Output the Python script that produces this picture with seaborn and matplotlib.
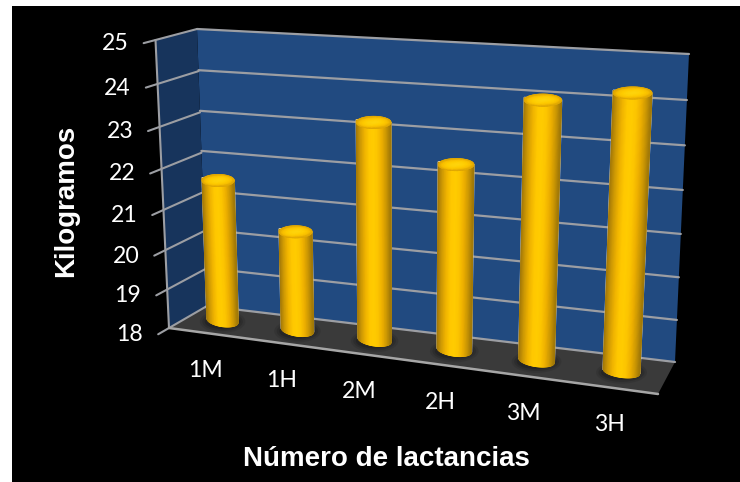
import numpy as np
import matplotlib
matplotlib.use("Agg")
import matplotlib.pyplot as plt
from matplotlib.patches import Ellipse, Polygon, Rectangle
from matplotlib.transforms import Transform
import seaborn as sns

# Chart data
CATEGORIES = ["1M", "1H", "2M", "2H", "3M", "3H"]
KILOGRAMS = [21.5, 20.45, 23.2, 22.4, 24.0, 24.3]
Y_TICKS = [18, 19, 20, 21, 22, 23, 24, 25]
Y_LABEL = "Kilogramos"
X_LABEL = "Número de lactancias"

V_MIN, V_MAX = Y_TICKS[0], Y_TICKS[-1]
U_MIN, U_MAX = -0.5, len(CATEGORIES) - 0.5
W, H = 740, 482


class PlaneTransform(Transform):
    """Perspective mapping from a rectangle in data space to a quad on the canvas."""
    input_dims = output_dims = 2
    has_inverse = False
    is_separable = False

    def __init__(self, x_range, y_range, quad):
        super().__init__()
        (x0, x1), (y0, y1) = x_range, y_range
        src = [(x0, y0), (x1, y0), (x1, y1), (x0, y1)]
        a, b = [], []
        for (x, y), (px, py) in zip(src, quad):
            a.append([x, y, 1, 0, 0, 0, -px * x, -px * y]); b.append(px)
            a.append([0, 0, 0, x, y, 1, -py * x, -py * y]); b.append(py)
        self.m = np.append(np.linalg.solve(np.array(a, float), np.array(b, float)), 1).reshape(3, 3)

    def transform_non_affine(self, values):
        v = np.asarray(values, float)
        p = np.c_[v, np.ones(len(v))] @ self.m.T
        return p[:, :2] / p[:, 2:]


# Quads are listed as: low-left, low-right, high-right, high-left
back_wall = PlaneTransform((U_MIN, U_MAX), (V_MIN, V_MAX),
                           [(207, 306), (675, 362), (689, 54), (197, 29)])
side_wall = PlaneTransform((0, 1), (V_MIN, V_MAX),
                           [(169, 328), (207, 306), (197, 29), (155.5, 40)])
floor = PlaneTransform((U_MIN, U_MAX), (0, 1),
                       [(169, 328), (658, 394), (675, 362), (207, 306)])
bar_plane = PlaneTransform((U_MIN, U_MAX), (V_MIN, V_MAX),
                           [(186, 316), (665, 377), (680, 62), (175, 28)])

sns.set_theme(style="white")
fig = plt.figure(figsize=(W / 100, H / 100), dpi=100, facecolor="white")
ax = fig.add_axes([0, 0, 1, 1])

body_cmap = sns.blend_palette(
    ["#a27808", "#cf9a04", "#f0b400", "#ffc800", "#ffcc00", "#fcc400", "#eeb000", "#cc9804", "#a07808"],
    as_cmap=True)
cap_cmap = sns.blend_palette(["#ffd40c", "#ffcc00", "#f8be00", "#dca404"], as_cmap=True)

BAR_WIDTH = 0.425
sns.barplot(x=np.arange(len(CATEGORIES)), y=KILOGRAMS, color="#f5b800", width=BAR_WIDTH,
            saturation=1, native_scale=True, ax=ax, zorder=3.5)
bars = list(ax.patches)

ax.set_xlim(0, W)
ax.set_ylim(H, 0)
ax.set_autoscale_on(False)
ax.axis("off")
ax.add_patch(Rectangle((12, 6), W - 12, H - 6, facecolor="black", edgecolor="none", zorder=0))

GRID = "#9c9ea3"
TICK_FONT = dict(color="white", fontsize=16.6, family="Lato", zorder=6)
TITLE_FONT = dict(color="white", fontsize=20, fontweight="bold", family="Liberation Sans", zorder=6)
to_canvas = lambda t: t + ax.transData


# Walls and floor
def plane_quad(t, xr, yr, color, z=1):
    ax.add_patch(Polygon([(xr[0], yr[0]), (xr[1], yr[0]), (xr[1], yr[1]), (xr[0], yr[1])],
                         closed=True, facecolor=color, edgecolor="none",
                         transform=to_canvas(t), zorder=z))


plane_quad(back_wall, (U_MIN, U_MAX), (V_MIN, V_MAX), "#214a80")
plane_quad(side_wall, (0, 1), (V_MIN, V_MAX), "#17345c")
plane_quad(floor, (U_MIN, U_MAX), (0, 1), "#3a3a3a")

for v in Y_TICKS:
    ax.plot([U_MIN, U_MAX], [v, v], color=GRID, lw=1.6, transform=to_canvas(back_wall), zorder=2)
    ax.plot([-0.27, 0, 1], [v, v, v], color=GRID, lw=1.5, transform=to_canvas(side_wall), zorder=2)
    tip = side_wall.transform_non_affine(np.array([[-0.27, v]]))[0]
    ax.text(tip[0] - 15, tip[1] + 0.5, str(v), ha="right", va="center", **TICK_FONT)
ax.plot([0, 0], [V_MIN, V_MAX], color=GRID, lw=1.5, transform=to_canvas(side_wall), zorder=2)
ax.plot([U_MIN, U_MAX], [0, 0], color="#a6a6a6", lw=1.8, transform=to_canvas(floor), zorder=2)

# Cylinders built on the bar rectangles
for i, (patch, value, name) in enumerate(zip(bars, KILOGRAMS, CATEGORIES)):
    x0, width = patch.get_x(), patch.get_width()
    patch.set_y(V_MIN)
    patch.set_height(value - V_MIN)
    patch.set_transform(to_canvas(bar_plane))

    pts = bar_plane.transform_non_affine(np.array(
        [[x0, V_MIN], [x0 + width, V_MIN], [x0, value], [x0 + width, value]]))
    lb, rb, lt, rt = pts
    base_c, top_c = (lb + rb) / 2, (lt + rt) / 2
    ry = 6.0
    rx_base = np.linalg.norm(rb - lb) / 2
    rx_top = np.linalg.norm(rt - lt) / 2

    # soft contact shadow on the floor
    for grow, alpha in zip((14, 9, 4), (0.12, 0.18, 0.25)):
        ax.add_patch(Ellipse((base_c[0], base_c[1] + 1), 2 * rx_base + grow, 2 * ry + grow * 0.75,
                             facecolor="#101010", alpha=alpha, edgecolor="none", zorder=3))

    t = np.linspace(-1, 1, 81)
    arc = np.sqrt(1 - t ** 2)
    frac = (t + 1) / 2
    xb = lb[0] + (rb[0] - lb[0]) * frac
    yb = lb[1] + (rb[1] - lb[1]) * frac + ry * arc
    xt = lt[0] + (rt[0] - lt[0]) * frac
    yt = lt[1] + (rt[1] - lt[1]) * frac + ry * arc
    X = np.vstack([xt, xb])
    Y = np.vstack([yt, yb])
    C = np.vstack([frac, frac])
    ax.pcolormesh(X, Y, C, shading="gouraud", cmap=body_cmap, vmin=0, vmax=1, zorder=4)

    # top cap, brighter toward its centre
    th = np.linspace(0, 2 * np.pi, 73)
    r = np.linspace(0, 1, 12)
    R, TH = np.meshgrid(r, th)
    Xc = top_c[0] + rx_top * R * np.cos(TH)
    Yc = top_c[1] + 1.2 + ry * R * np.sin(TH)
    ax.pcolormesh(Xc, Yc, R ** 2, shading="gouraud", cmap=cap_cmap, vmin=0, vmax=1, zorder=5)

    # category label
    ax.text(base_c[0] - 17 + i, base_c[1] + 50 + 0.7 * i, name, ha="center", va="center", **TICK_FONT)

ax.text(66, 201, Y_LABEL, rotation=90, ha="center", va="center", **TITLE_FONT)
ax.text(386, 459, X_LABEL, ha="center", va="center", **TITLE_FONT)

fig.savefig("out.png", dpi=100, facecolor="white")
